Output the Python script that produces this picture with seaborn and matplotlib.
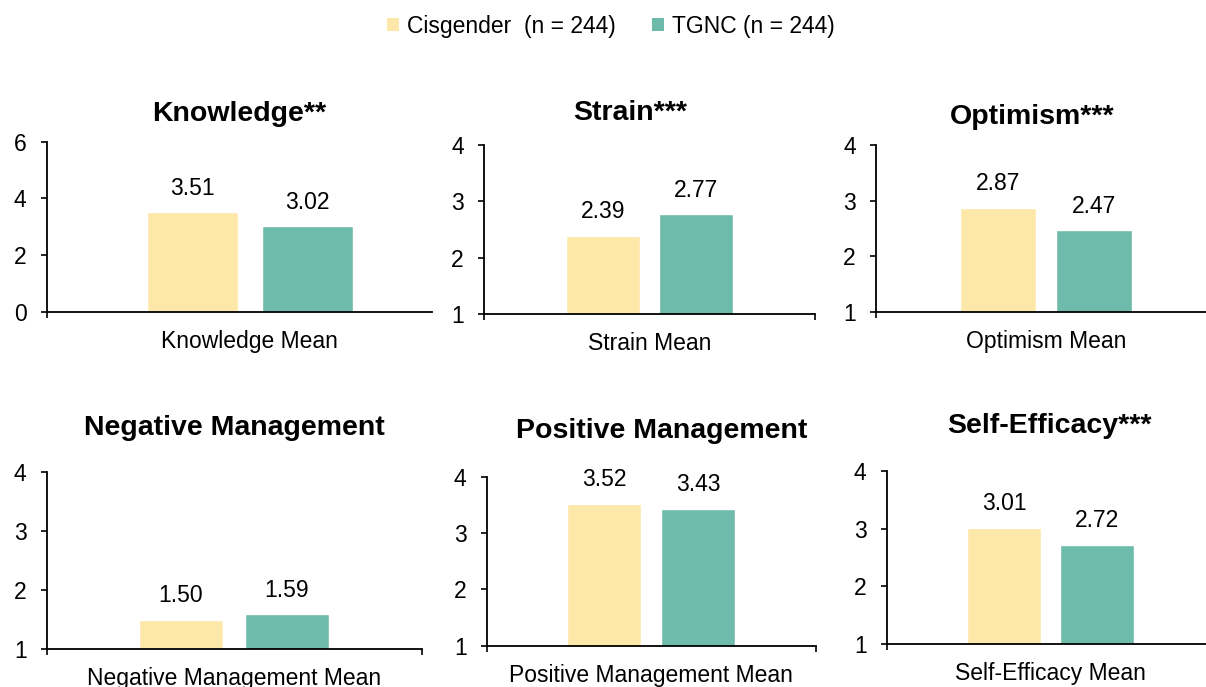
import numpy as np
import pandas as pd
import matplotlib
matplotlib.use("Agg")
import matplotlib.pyplot as plt
from matplotlib.patches import Patch
import seaborn as sns

# ---------------- data ----------------
panel_titles = ["Knowledge**", "Strain***", "Optimism***",
                "Negative Management", "Positive Management", "Self-Efficacy***"]
categories = ["Knowledge Mean", "Strain Mean", "Optimism Mean",
              "Negative Management Mean", "Positive Management Mean", "Self-Efficacy Mean"]
groups = ["Cisgender  (n = 244)", "TGNC (n = 244)"]
cis_values = [3.51, 2.39, 2.87, 1.50, 3.52, 3.01]
tgnc_values = [3.02, 2.77, 2.47, 1.59, 3.43, 2.72]
y_min = [0, 1, 1, 1, 1, 1]
y_max = [6, 4, 4, 4, 4, 4]
y_step = [2, 1, 1, 1, 1, 1]

# ---------------- style ----------------
colors = ["#FDE8A9", "#6EBBAB"]
sns.set_style("white")
plt.rcParams["font.family"] = ["Liberation Sans", "DejaVu Sans"]
plt.rcParams["text.color"] = "black"
plt.rcParams["xtick.color"] = "black"
plt.rcParams["ytick.color"] = "black"

W, H = 1206, 687
fig = plt.figure(figsize=(W / 100, H / 100), dpi=100)
fig.patch.set_facecolor("white")

# layout in pixels: axis left, axis right, top, bottom, category centre, slot width
layout = [
    (46.7, 432, 141.7, 312, 249.85, 115.0),
    (484, 815, 145, 314, 649.5, 93.65),
    (876, 1206, 145, 312, 1046.1, 96.25),
    (46.7, 422, 472.3, 649, 233.9, 106.15),
    (486.7, 816, 476.7, 645.7, 651.1, 94.15),
    (886.7, 1206, 471, 643.7, 1050.5, 93.0),
]
title_pos = [(239, 120.7), (629.7, 119.7), (1032, 123.8),
             (234.7, 435), (661.7, 438), (1049.7, 433)]
right_edge_tick = [False, True, False, True, True, False]

FS = 16.5
for i in range(6):
    xl, xr, yt, yb, c, slot = layout[i]
    ax = fig.add_axes([xl / W, 1 - yb / H, (xr - xl) / W, (yb - yt) / H])
    ax.set_facecolor("white")
    df = pd.DataFrame({
        "measure": [categories[i]] * 2,
        "group": groups,
        "value": [cis_values[i], tgnc_values[i]],
    })
    sns.barplot(data=df, x="measure", y="value", hue="group", hue_order=groups,
                palette=colors, width=0.8, gap=0.21, saturation=1,
                errorbar=None, legend=False, ax=ax)
    ppu = slot / 0.4
    x0, x1 = (xl - c) / ppu, (xr - c) / ppu
    ax.set_xlim(x0, x1)
    ax.set_ylim(y_min[i], y_max[i])
    ax.set_yticks(np.arange(y_min[i], y_max[i] + 0.001, y_step[i]))
    ax.set_xlabel("")
    ax.set_ylabel("")
    for s in ["top", "right"]:
        ax.spines[s].set_visible(False)
    for s in ["left", "bottom"]:
        ax.spines[s].set_color("black")
        ax.spines[s].set_linewidth(1.3)
    ax.tick_params(axis="x", which="major", length=0, pad=13, labelsize=FS)
    ax.tick_params(axis="y", which="major", left=True, length=4.5, width=1.2,
                   pad=10, labelsize=FS, direction="out")
    edges = [x0, x1] if right_edge_tick[i] else [x0]
    ax.set_xticks(edges, minor=True)
    ax.tick_params(axis="x", which="minor", bottom=True, length=4, width=1.2,
                   direction="out")
    for cont in ax.containers:
        ax.bar_label(cont, fmt="%.2f", padding=9, fontsize=FS)
    tx, ty = title_pos[i]
    fig.text(tx / W, 1 - ty / H, panel_titles[i], ha="center", va="baseline",
             fontsize=20.5, fontweight="bold")

handles = [Patch(facecolor=col, edgecolor="none") for col in colors]
fig.legend(handles, groups, loc="center", bbox_to_anchor=(610.9 / W, 1 - 26 / H),
           ncol=2, frameon=False, fontsize=FS, handlelength=0.5, handleheight=0.5,
           handletextpad=0.35, columnspacing=1.6, borderpad=0, borderaxespad=0)

fig.savefig("out.png", dpi=100, facecolor="white")
